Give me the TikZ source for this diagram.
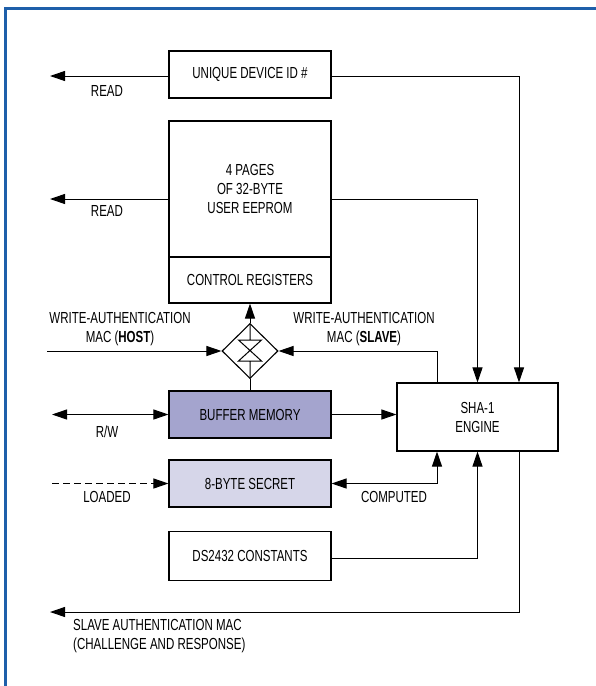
\documentclass[tikz,border=0pt]{standalone}
\usepackage{fontspec}
\setmainfont{Liberation Sans}[FakeStretch=0.72]
\usetikzlibrary{arrows.meta, shapes.geometric}
\definecolor{framebl}{RGB}{30,95,170}
\definecolor{bufcol}{RGB}{164,164,206}
\definecolor{seccol}{RGB}{214,214,233}

\begin{document}
\begin{tikzpicture}[x=1pt, y=-1pt, font=\fontsize{16}{19}\selectfont, blk/.style={draw, line width=1.1pt, minimum width=162pt, minimum height=47pt, inner sep=0pt, align=center}, lbl/.style={inner sep=0pt, align=center}, arr/.style={-{Triangle[length=15pt,width=10pt]}, line width=1pt}, dbl/.style={{Triangle[length=15pt,width=10pt]}-{Triangle[length=15pt,width=10pt]}, line width=1pt}]
\useasboundingbox (0,0) rectangle (596,686);
\draw[framebl, line width=3pt] (5,686) -- (5,8.5) -- (596,8.5);

\node[blk] (uid) at (250,74.5) {UNIQUE DEVICE ID \#}; \node[blk, minimum height=136pt] (eeprom) at (250,189) {4 PAGES\\OF 32-BYTE\\USER EEPROM}; \node[blk, minimum height=46pt] (ctrl) at (250,280) {CONTROL REGISTERS};
\node[draw, diamond, line width=1.1pt, minimum width=56pt, minimum height=55pt, inner sep=0pt] (sw) at (250,351) {}; \draw[line width=1pt, shift={(sw.center)}] (-11.5,-11) -- (11.5,-11) -- (-11.5,10) -- (11.5,10) -- cycle (0,-27.5) -- (0,-11) (0,10) -- (0,27.5);
\node[blk, fill=bufcol] (buf) at (250,414.5) {BUFFER MEMORY}; \node[blk, fill=seccol] (sec) at (250,483.5) {8-BYTE SECRET}; \node[blk, minimum height=49pt] (ds) at (250,556) {DS2432 CONSTANTS};
\node[blk, minimum width=161pt, minimum height=68pt] (sha) at (477.5,417) {SHA-1\\ENGINE};

\coordinate (rd1) at (50,76); \coordinate (rd2) at (50,199); \coordinate (hostin) at (47,351); \coordinate (rwin) at (52,414.5); \coordinate (ldin) at (52,483.5); \coordinate (slout) at (50,612);
\node[lbl] (rdl1) at (107,91) {READ}; \node[lbl] (rdl2) at (107,211) {READ}; \node[lbl] (hostl) at (120,329.5) {WRITE-AUTHENTICATION\\MAC (\textbf{HOST})}; \node[lbl] (slavel) at (364,329.5) {WRITE-AUTHENTICATION\\MAC (\textbf{SLAVE})};
\node[lbl] (rwl) at (107,432) {R/W}; \node[lbl] (ldl) at (107,497) {LOADED}; \node[lbl] (cmpl) at (394,497) {COMPUTED}; \node[lbl, align=left, anchor=north west] (macl) at (73,619) {SLAVE AUTHENTICATION MAC\\(CHALLENGE AND RESPONSE)};

\draw[arr] ([yshift=-1.5pt]uid.west) -- (rd1); \draw[arr] ([yshift=-1.5pt]uid.east) -| ([xshift=41.5pt]sha.north);
\draw[arr] ([yshift=-10pt]eeprom.west) -- (rd2); \draw[arr] ([yshift=-10pt]eeprom.east) -| (sha.north);
\draw[arr] (hostin) -- (sw.west); \draw[arr] ([xshift=-40.5pt]sha.north) |- (sw.east); \draw[arr] (sw.north) -- (ctrl.south); \draw[line width=1pt] (sw.south) -- (buf.north);
\draw[dbl] (rwin) -- (buf.west); \draw[arr] (buf.east) -- (buf.east -| sha.west);
\draw[arr, dash pattern=on 7pt off 4pt] (ldin) -- (sec.west); \draw[dbl] (sec.east) -| ([xshift=-40.5pt]sha.south);
\draw[arr] ([yshift=-2pt]ds.east) -| (sha.south); \draw[arr] ([xshift=41.5pt]sha.south) |- (slout);
\end{tikzpicture}
\end{document}
